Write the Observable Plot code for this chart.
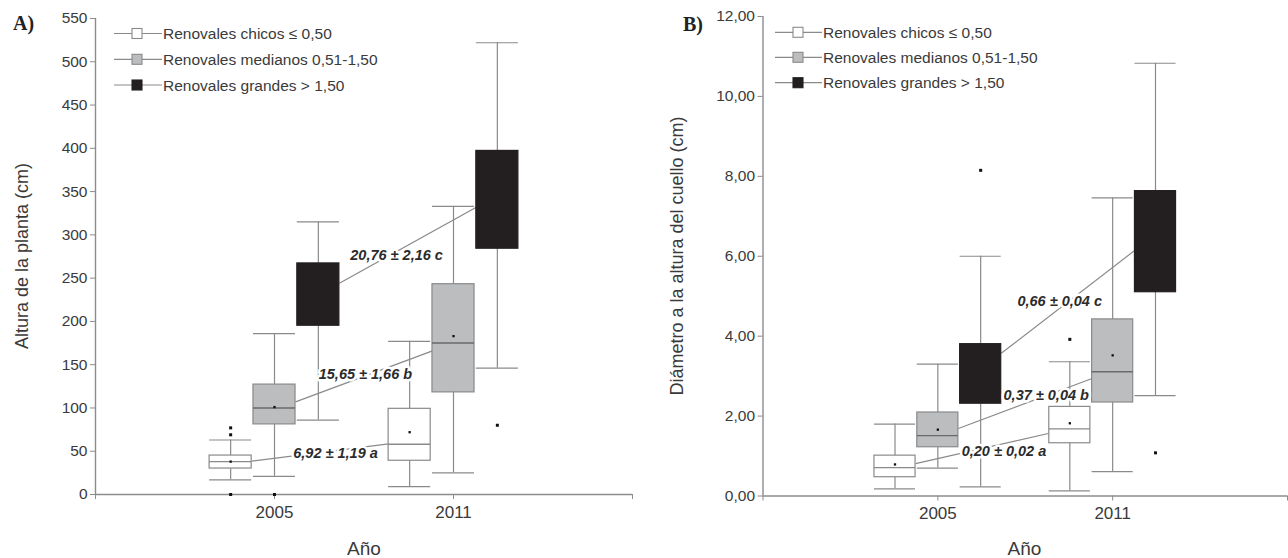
<!DOCTYPE html>
<html><head><meta charset="utf-8">
<script src="https://cdn.jsdelivr.net/npm/d3@7"></script>
<script src="https://cdn.jsdelivr.net/npm/@observablehq/plot@0.6"></script>
<style>
body{margin:0;background:#fff;}
#wrap{display:flex;width:1288px;height:558px;overflow:hidden;}
svg{display:block}
</style></head><body><div id="wrap"></div>
<script>
// ---------- categories ----------
const years = ["2005", "2011"];
const classes = ["Renovales chicos \u2264 0,50", "Renovales medianos 0,51-1,50", "Renovales grandes > 1,50"];
// group order: 2005 chicos, 2005 medianos, 2005 grandes, 2011 chicos, 2011 medianos, 2011 grandes

// ---------- Panel A: Altura de la planta (cm) ----------
const alturaTicks = [0, 50, 100, 150, 200, 250, 300, 350, 400, 450, 500, 550];
const alturaLow    = [17, 21, 86, 9, 25, 146];
const alturaQ1     = [30, 81, 195, 39, 118, 284];
const alturaMedian = [38, 100, null, 58, 175, null];
const alturaQ3     = [45, 127, 267, 99, 243, 397];
const alturaHigh   = [63, 186, 315, 177, 333, 522];
const alturaMean   = [38, 101, null, 72, 183, null];
const alturaOutlierGroup = [0, 0, 0, 1, 5];
const alturaOutlierValue = [77, 69, 0, 0, 80];
const alturaLinkFrom = [38.5, 107, 244];
const alturaLinkTo   = [58.5, 166, 332];
const alturaLabels = ["6,92 \u00b1 1,19 a", "15,65 \u00b1 1,66 b", "20,76 \u00b1 2,16 c"];
const alturaLabelX = [1.341, 1.508, 1.682];
const alturaLabelY = [47, 138.6, 276];

// ---------- Panel B: Diámetro a la altura del cuello (cm) ----------
const diamTicks = [0, 2, 4, 6, 8, 10, 12];
const diamLow    = [0.18, 0.70, 0.23, 0.13, 0.61, 2.51];
const diamQ1     = [0.47, 1.22, 2.31, 1.32, 2.34, 5.10];
const diamMedian = [0.71, 1.51, null, 1.68, 3.11, null];
const diamQ3     = [1.01, 2.09, 3.80, 2.23, 4.42, 7.63];
const diamHigh   = [1.80, 3.30, 6.00, 3.36, 7.46, 10.83];
const diamMean   = [0.79, 1.66, null, 1.82, 3.52, null];
const diamOutlierGroup = [2, 3, 5];
const diamOutlierValue = [8.15, 3.92, 1.08];
const diamLinkFrom = [0.81, 1.69, 3.57];
const diamLinkTo   = [1.57, 2.94, 6.15];
const diamLabels = ["0,20 \u00b1 0,02 a", "0,37 \u00b1 0,04 b", "0,66 \u00b1 0,04 c"];
const diamLabelX = [1.378, 1.62, 1.697];
const diamLabelY = [1.11, 2.52, 4.88];

// ---------- styles ----------
const FONT = "'Liberation Sans', Arial, Helvetica, sans-serif";
const classFill = ["#ffffff", "#bcbdbf", "#231f20"];
const classStroke = ["#8a8a8a", "#8a8a8a", "#231f20"];
const medianStroke = ["#8a8a8a", "#6a6a6a", "#231f20"];
const AXIS = "#8c8c8c";
const TEXT = "#3a3a3a";
const OFFSET = 0.245, HALF = 0.1175;

function center(g) { return Math.floor(g / 3) + 1 + ((g % 3) - 1) * OFFSET; }

function panel(cfg) {
  const groups = cfg.low.map((lo, g) => ({
    g, cls: g % 3, c: center(g),
    lo, q1: cfg.q1[g], med: cfg.median[g], q3: cfg.q3[g], hi: cfg.high[g], mean: cfg.mean[g]
  }));
  const outliers = cfg.outGroup.map((g, i) => ({c: center(g), v: cfg.outValue[i]}));
  const links = cfg.linkFrom.map((v, k) => ({
    x1: center(k) + HALF, x2: center(k + 3) - HALF, y1: v, y2: cfg.linkTo[k]
  }));
  const labels = cfg.labels.map((t, k) => ({t, x: cfg.labelX[k], y: cfg.labelY[k]}));

  const svg = Plot.plot({
    width: cfg.width, height: 558,
    marginLeft: cfg.ml, marginRight: cfg.mr, marginTop: cfg.mt, marginBottom: cfg.mb,
    style: {fontFamily: FONT, background: "#fff", color: TEXT, overflow: "visible"},
    x: {domain: [0, 3], axis: null},
    y: {domain: cfg.ydomain, axis: null},
    marks: [
      Plot.axisY({ticks: cfg.yticks, tickFormat: cfg.yfmt, tickSize: 5, tickPadding: 3,
        stroke: AXIS, fill: TEXT, fontSize: 15.5, label: null}),
      Plot.axisX({ticks: [0, 1, 2, 3], tickFormat: d => years[d - 1] ?? "", tickSize: 5, tickPadding: 6,
        stroke: AXIS, fill: TEXT, fontSize: 17, label: null}),
      Plot.ruleX([0], {stroke: AXIS, strokeWidth: 1.4}),
      Plot.ruleY([cfg.ydomain[0]], {stroke: AXIS, strokeWidth: 1.4}),
      // whiskers
      Plot.ruleX(groups, {x: "c", y1: "lo", y2: "hi", stroke: "#8a8a8a", strokeWidth: 1.2}),
      Plot.ruleY(groups, {y: "hi", x1: d => d.c - HALF, x2: d => d.c + HALF, stroke: "#8a8a8a", strokeWidth: 1.2}),
      Plot.ruleY(groups, {y: "lo", x1: d => d.c - HALF, x2: d => d.c + HALF, stroke: "#8a8a8a", strokeWidth: 1.2}),
      // connecting lines
      Plot.link(links, {x1: "x1", x2: "x2", y1: "y1", y2: "y2", stroke: "#8a8a8a", strokeWidth: 1.2}),
      // boxes
      Plot.rect(groups, {x1: d => d.c - HALF, x2: d => d.c + HALF, y1: "q1", y2: "q3",
        fill: d => classFill[d.cls], stroke: d => classStroke[d.cls], strokeWidth: 1.2}),
      Plot.ruleY(groups.filter(d => d.med != null), {y: "med", x1: d => d.c - HALF, x2: d => d.c + HALF,
        stroke: d => medianStroke[d.cls], strokeWidth: 1.4}),
      Plot.dot(groups.filter(d => d.mean != null), {x: "c", y: "mean", symbol: "square", r: 1.3, fill: "#111"}),
      Plot.dot(outliers, {x: "c", y: "v", symbol: "square", r: 1.7, fill: "#111"}),
      // labels
      Plot.text(labels, {x: "x", y: "y", text: "t", fontSize: 14.5, fontWeight: "bold", fontStyle: "italic",
        fill: "#2b2b2b", stroke: "white", strokeWidth: 5})
    ]
  });

  const s = d3.select(svg);
  // legend
  const lg = s.append("g").attr("text-anchor", "start");
  classes.forEach((name, i) => {
    const y = cfg.legY[i];
    lg.append("line").attr("x1", cfg.legX0).attr("x2", cfg.legX1).attr("y1", y).attr("y2", y)
      .attr("stroke", "#8a8a8a").attr("stroke-width", 1.2);
    lg.append("rect").attr("x", cfg.legSq - 5).attr("y", y - 5).attr("width", 10).attr("height", 10)
      .attr("fill", classFill[i]).attr("stroke", classStroke[i]).attr("stroke-width", 1.1);
    lg.append("text").attr("x", cfg.legX1 + 1).attr("y", y).attr("dy", "0.36em")
      .attr("text-anchor", "start")
      .attr("font-size", 15.5).attr("fill", TEXT).attr("font-family", FONT).text(name);
  });
  // axis titles
  s.append("text").attr("transform", `translate(${cfg.ytitleX},${cfg.ytitleY}) rotate(-90)`)
    .attr("text-anchor", "middle").attr("font-size", 18).attr("fill", TEXT).attr("font-family", FONT)
    .text(cfg.ytitle);
  s.append("text").attr("x", cfg.xtitleX).attr("y", 555).attr("text-anchor", "middle")
    .attr("font-size", 19).attr("fill", TEXT).attr("font-family", FONT).text("A\u00f1o");
  // panel letter
  s.append("text").attr("x", cfg.letterX).attr("y", cfg.letterY).attr("text-anchor", "start")
    .attr("font-size", 20).attr("font-weight", "bold").attr("fill", "#222")
    .attr("font-family", "'Liberation Serif', 'Times New Roman', serif").text(cfg.letter);
  return svg;
}

const fmtComma = d => d3.format(".2f")(d).replace(".", ",");

const wrap = document.getElementById("wrap");
wrap.appendChild(panel({
  width: 644, ml: 95, mr: 12, mt: 18, mb: 64,
  ydomain: [0, 550], yticks: alturaTicks, yfmt: d => String(d),
  low: alturaLow, q1: alturaQ1, median: alturaMedian, q3: alturaQ3, high: alturaHigh, mean: alturaMean,
  outGroup: alturaOutlierGroup, outValue: alturaOutlierValue,
  linkFrom: alturaLinkFrom, linkTo: alturaLinkTo,
  labels: alturaLabels, labelX: alturaLabelX, labelY: alturaLabelY,
  legX0: 114, legX1: 162, legSq: 137, legY: [33.5, 59.3, 85],
  ytitle: "Altura de la planta (cm)", ytitleX: 28, ytitleY: 256,
  xtitleX: 364, letter: "A)", letterX: 13, letterY: 30
}));
wrap.appendChild(panel({
  width: 644, ml: 118.5, mr: 1, mt: 16, mb: 62.5,
  ydomain: [0, 12], yticks: diamTicks, yfmt: fmtComma,
  low: diamLow, q1: diamQ1, median: diamMedian, q3: diamQ3, high: diamHigh, mean: diamMean,
  outGroup: diamOutlierGroup, outValue: diamOutlierValue,
  linkFrom: diamLinkFrom, linkTo: diamLinkTo,
  labels: diamLabels, labelX: diamLabelX, labelY: diamLabelY,
  legX0: 131, legX1: 178, legSq: 154, legY: [32.3, 57.3, 82.7],
  ytitle: "Di\u00e1metro a la altura del cuello (cm)", ytitleX: 38.6, ytitleY: 256,
  xtitleX: 380.5, letter: "B)", letterX: 39, letterY: 31
}));
</script></body></html>
